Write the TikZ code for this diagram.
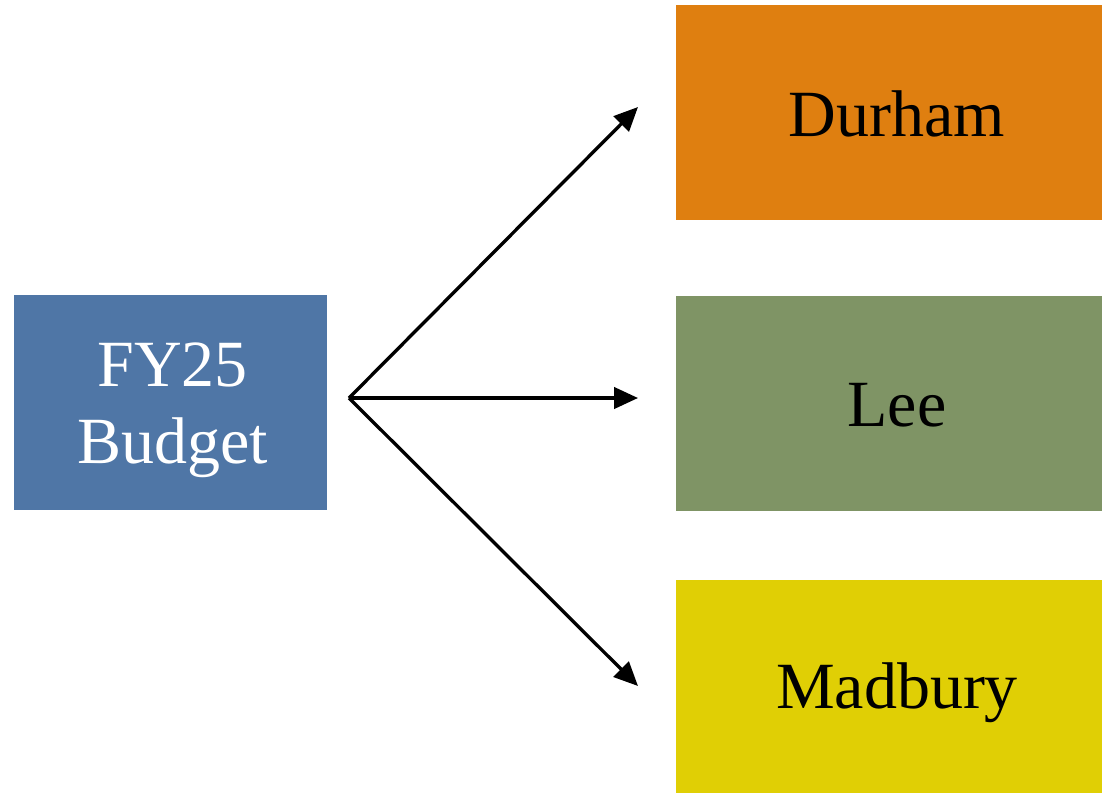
\documentclass[tikz,border=0pt]{standalone}
\usepackage{fontspec}
\setmainfont{Liberation Serif}
\usetikzlibrary{arrows.meta}
\definecolor{cblue}{RGB}{79,118,166}
\definecolor{corange}{RGB}{223,127,16}
\definecolor{cgreen}{RGB}{127,148,101}
\definecolor{cyellow}{RGB}{224,207,5}
\tikzset{
  box/.style={draw=none, inner sep=0pt, minimum width=319.5pt, minimum height=161.25pt},
  lbl/.style={inner sep=0pt, align=center, font=\fontsize{49.5pt}{57.75pt}\selectfont},
  conn/.style={line width=2.5pt, -{Triangle[length=18pt,width=16pt]}}
}
\begin{document}
\begin{tikzpicture}[x=0.75pt,y=-0.75pt]
\useasboundingbox (0,0) rectangle (1102,793);
\node[box, fill=cblue, minimum width=234.75pt] (budget) at (170.5,402.5) {};
\node[box, fill=corange] (durham) at (889,112.5) {};
\node[box, fill=cgreen] (lee) at (889,403) {};
\node[box, fill=cyellow, minimum height=159.75pt] (madbury) at (889,686.5) {};
\node[lbl, text=white] (budgetlbl) at ([xshift=1.5pt,yshift=-6pt]budget.center) {FY25\\Budget};
\node[lbl] (durhamlbl) at ([xshift=6pt,yshift=-1pt]durham.center) {Durham};
\node[lbl] (leelbl) at ([xshift=6pt,yshift=-2pt]lee.center) {Lee};
\node[lbl] (madburylbl) at ([xshift=6pt,yshift=-4.5pt]madbury.center) {Madbury};
\coordinate (src) at (349,398);
\coordinate (tD) at (638,107);
\coordinate (tL) at (638,398);
\coordinate (tM) at (638,686);
\draw[conn] (src) -- (tD);
\draw[conn] (src) -- (tL);
\draw[conn] (src) -- (tM);
\end{tikzpicture}
\end{document}
